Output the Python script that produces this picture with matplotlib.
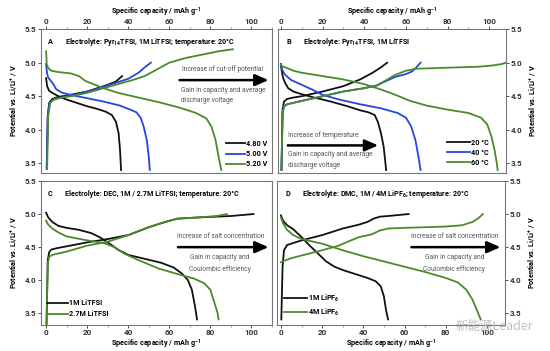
import matplotlib
matplotlib.use("Agg")
import matplotlib.pyplot as plt
from matplotlib.ticker import MultipleLocator

# ---------------------------------------------------------------------------
# data (capacity in mAh/g, potential in V)
# ---------------------------------------------------------------------------
# Panel A: cut-off potential
a_480_chg_x = [0.3, 0.8, 1.5, 3, 6, 10, 15, 20, 25, 30, 34, 37]
a_480_chg_y = [3.42, 4.2, 4.4, 4.46, 4.49, 4.51, 4.54, 4.57, 4.62, 4.67, 4.72, 4.8]
a_480_dis_x = [0, 0.5, 1.5, 3, 6, 10, 15, 20, 25, 29, 32, 34, 35.3, 36, 36.5]
a_480_dis_y = [4.77, 4.65, 4.58, 4.55, 4.5, 4.45, 4.4, 4.35, 4.31, 4.27, 4.22, 4.12, 3.95, 3.7, 3.4]
a_500_chg_x = [0.3, 0.8, 1.5, 3, 6, 10, 15, 20, 25, 30, 35, 40, 45, 48, 51]
a_500_chg_y = [3.42, 4.2, 4.38, 4.44, 4.47, 4.5, 4.53, 4.57, 4.61, 4.66, 4.71, 4.76, 4.85, 4.93, 5.0]
a_500_dis_x = [0, 0.4, 1, 2, 3.5, 5, 8, 12, 20, 28, 36, 41, 44, 46, 47.5, 49, 50, 50.5]
a_500_dis_y = [4.98, 4.85, 4.78, 4.74, 4.68, 4.6, 4.55, 4.52, 4.47, 4.42, 4.36, 4.3, 4.26, 4.18, 4.05, 3.85, 3.6, 3.4]
a_520_chg_x = [0.5, 1, 2, 4, 8, 12, 20, 28, 35, 42, 48, 54, 60, 68, 76, 84, 91]
a_520_chg_y = [3.42, 4.2, 4.4, 4.46, 4.48, 4.5, 4.55, 4.62, 4.68, 4.74, 4.8, 4.9, 5.0, 5.07, 5.12, 5.17, 5.2]
a_520_dis_x = [0, 0.3, 1, 2.5, 6, 12, 16, 19, 23, 28, 35, 45, 55, 65, 73, 78, 80.5, 82.5, 84, 85.3]
a_520_dis_y = [5.17, 4.98, 4.92, 4.88, 4.86, 4.84, 4.8, 4.73, 4.68, 4.62, 4.55, 4.48, 4.41, 4.33, 4.25, 4.17, 4.05, 3.85, 3.6, 3.4]

# Panel B: temperature
b_20_chg_x = [0.3, 0.8, 1.5, 3, 6, 10, 20, 30, 38, 44, 48, 51]
b_20_chg_y = [3.4, 4.3, 4.42, 4.46, 4.48, 4.5, 4.57, 4.65, 4.75, 4.85, 4.93, 5.0]
b_20_dis_x = [0, 0.4, 1, 2, 3.5, 6, 10, 16, 24, 32, 38, 42, 45, 46.5, 48, 49.3, 50, 50.5]
b_20_dis_y = [4.98, 4.88, 4.78, 4.7, 4.62, 4.57, 4.53, 4.48, 4.42, 4.35, 4.29, 4.26, 4.22, 4.12, 3.95, 3.75, 3.55, 3.4]
b_40_chg_x = [0.3, 0.8, 1.5, 3, 10, 20, 30, 40, 46, 50, 55, 60, 63, 65, 67]
b_40_chg_y = [3.4, 4.25, 4.35, 4.38, 4.43, 4.5, 4.57, 4.62, 4.66, 4.72, 4.79, 4.83, 4.87, 4.93, 5.0]
b_40_dis_x = [0, 0.5, 2, 5, 10, 15, 20, 28, 38, 48, 56, 60, 62.5, 64.5, 66, 67]
b_40_dis_y = [4.97, 4.9, 4.82, 4.74, 4.67, 4.6, 4.52, 4.45, 4.38, 4.32, 4.25, 4.18, 4.05, 3.85, 3.6, 3.4]
b_60_chg_x = [0.3, 0.8, 1.5, 3, 10, 20, 30, 40, 46, 50, 55, 60, 65, 75, 85, 95, 102, 106, 108]
b_60_chg_y = [3.4, 4.25, 4.35, 4.38, 4.43, 4.5, 4.57, 4.62, 4.66, 4.73, 4.82, 4.88, 4.91, 4.92, 4.93, 4.94, 4.96, 4.98, 5.0]
b_60_dis_x = [0, 1, 3, 6, 10, 20, 30, 40, 48, 55, 62, 70, 80, 90, 96, 99, 101, 102.5, 103.5, 104]
b_60_dis_y = [4.97, 4.94, 4.92, 4.88, 4.85, 4.8, 4.75, 4.68, 4.6, 4.52, 4.43, 4.36, 4.3, 4.25, 4.18, 4.08, 3.9, 3.7, 3.52, 3.4]

# Panel C: DEC, LiTFSI concentration
c_1m_chg_x = [0.2, 0.8, 1.5, 2.5, 5, 10, 20, 30, 40, 50, 58, 64, 75, 90, 101]
c_1m_chg_y = [3.32, 4.3, 4.42, 4.46, 4.48, 4.51, 4.57, 4.62, 4.68, 4.8, 4.88, 4.93, 4.95, 4.97, 5.0]
c_1m_dis_x = [0, 1, 3, 6, 10, 16, 22, 26, 30, 35, 40, 48, 56, 62, 66, 69, 71, 72.5, 73.5]
c_1m_dis_y = [5.02, 4.95, 4.88, 4.82, 4.79, 4.76, 4.71, 4.65, 4.57, 4.46, 4.38, 4.32, 4.26, 4.19, 4.1, 4.0, 3.85, 3.6, 3.4]
c_27m_chg_x = [0.2, 0.8, 1.5, 3, 10, 20, 30, 40, 50, 58, 64, 75, 83, 88]
c_27m_chg_y = [3.32, 4.25, 4.35, 4.38, 4.43, 4.52, 4.58, 4.68, 4.8, 4.88, 4.93, 4.95, 4.97, 5.0]
c_27m_dis_x = [0, 1, 3, 6, 10, 20, 28, 33, 38, 45, 55, 65, 72, 77, 80, 82, 83.5, 84]
c_27m_dis_y = [4.9, 4.84, 4.78, 4.72, 4.66, 4.6, 4.56, 4.5, 4.4, 4.3, 4.17, 4.08, 4.02, 3.95, 3.85, 3.65, 3.5, 3.4]

# Panel D: DMC, LiPF6 concentration
d_1m_chg_x = [0.2, 0.8, 1.5, 3, 6, 10, 20, 30, 38, 42, 45, 48, 52, 62]
d_1m_chg_y = [3.4, 4.2, 4.45, 4.53, 4.56, 4.6, 4.68, 4.78, 4.84, 4.88, 4.93, 4.96, 4.97, 5.0]
d_1m_dis_x = [0, 1, 3, 6, 10, 14, 18, 22, 26, 30, 36, 42, 46, 48.5, 50, 51, 52]
d_1m_dis_y = [4.98, 4.9, 4.83, 4.77, 4.65, 4.52, 4.4, 4.28, 4.2, 4.15, 4.09, 4.03, 3.98, 3.9, 3.75, 3.55, 3.4]
d_4m_chg_x = [0, 5, 10, 20, 28, 34, 38, 44, 48, 52, 60, 70, 80, 88, 93, 96, 98]
d_4m_chg_y = [4.27, 4.33, 4.37, 4.45, 4.52, 4.6, 4.65, 4.69, 4.75, 4.78, 4.79, 4.8, 4.81, 4.83, 4.88, 4.94, 5.0]
d_4m_dis_x = [0, 1, 3, 6, 10, 20, 30, 40, 50, 60, 70, 80, 86, 90, 93, 95, 97]
d_4m_dis_y = [4.95, 4.86, 4.76, 4.68, 4.62, 4.55, 4.45, 4.36, 4.28, 4.2, 4.12, 4.03, 3.96, 3.85, 3.7, 3.55, 3.4]

a_labels = ["4.80 V", "5.00 V", "5.20 V"]
b_labels = ["20 \u00b0C", "40 \u00b0C", "60 \u00b0C"]
c_labels = ["1M LiTFSI", "2.7M LiTFSI"]
d_labels = [r"1M LiPF$_6$", r"4M LiPF$_6$"]

x_ticks = [0, 20, 40, 60, 80, 100]
y_ticks = [3.5, 4.0, 4.5, 5.0, 5.5]

BLACK = "#111111"
BLUE = "#2447d8"
GREEN = "#4b8a2c"
GRAY = "#555555"

XLAB = r"Specific capacity / mAh g$^{-1}$"
YLAB = r"Potential vs. Li/Li$^{+}$ / V"

plt.rcParams["font.family"] = ["Roboto", "DejaVu Sans"]
plt.rcParams["font.weight"] = "bold"
plt.rcParams["mathtext.fontset"] = "custom"
plt.rcParams["mathtext.rm"] = "Roboto:bold"
plt.rcParams["mathtext.default"] = "rm"
FS = 5.2

fig = plt.figure(figsize=(5.5, 3.51), dpi=100)
axA = fig.add_axes([0.0745, 0.508, 0.42, 0.409])
axB = fig.add_axes([0.505, 0.508, 0.415, 0.409])
axC = fig.add_axes([0.0745, 0.075, 0.42, 0.409])
axD = fig.add_axes([0.504, 0.075, 0.415, 0.409])


def style(ax, xlim, ylim, top=False, right=False):
    ax.set_xlim(*xlim)
    ax.set_ylim(*ylim)
    ax.set_xticks(x_ticks)
    ax.xaxis.set_minor_locator(MultipleLocator(10))
    ax.set_yticks(y_ticks)
    ax.set_yticklabels([f"{v:.1f}" for v in y_ticks])
    ax.tick_params(labelsize=5.9, length=2, width=0.6, pad=1.2, colors="#333333")
    ax.tick_params(which="minor", length=1.2, width=0.5, colors="#777777")
    for s in ax.spines.values():
        s.set_color("#777777")
        s.set_linewidth(0.8)
    if top:
        ax.xaxis.tick_top()
        ax.xaxis.set_label_position("top")
    if right:
        ax.yaxis.tick_right()
        ax.yaxis.set_label_position("right")
    ax.set_xlabel(XLAB, fontsize=FS, fontweight="bold", labelpad=2.5 if top else 0.8)
    ax.set_ylabel(YLAB, fontsize=FS, fontweight="bold", labelpad=4)


def curves(ax, pairs, colors, labels):
    for (cx, cy, dx, dy), col, lab in zip(pairs, colors, labels):
        ax.plot(cx, cy, color=col, lw=1.3, label=lab)
        ax.plot(dx, dy, color=col, lw=1.3)


def title(ax, letter, text, lx, tx):
    ax.text(lx, 0.91, letter, transform=ax.transAxes, fontsize=5.3, fontweight="bold", va="center")
    ax.text(tx, 0.91, text, transform=ax.transAxes, fontsize=5.1, fontweight="bold", va="center")


def arrow_note(ax, x0, x1, y, head, head_x, body, body_x, body_y, ha_head="center", ha_body="left"):
    ax.annotate("", xy=(x1, y), xytext=(x0, y), xycoords="axes fraction",
                arrowprops=dict(arrowstyle="-|>,head_length=0.8,head_width=0.35", lw=1.8, color="black",
                                shrinkA=0, shrinkB=0))
    ax.text(head_x, y + 0.075, head, transform=ax.transAxes, fontsize=4.8, color=GRAY,
            ha=ha_head, va="center", fontweight="normal")
    ax.text(body_x, body_y, body, transform=ax.transAxes, fontsize=4.8, color=GRAY,
            ha=ha_body, va="top", linespacing=1.7, fontweight="normal")


# ---- A
curves(axA, [(a_480_chg_x, a_480_chg_y, a_480_dis_x, a_480_dis_y),
             (a_500_chg_x, a_500_chg_y, a_500_dis_x, a_500_dis_y),
             (a_520_chg_x, a_520_chg_y, a_520_dis_x, a_520_dis_y)],
       [BLACK, BLUE, GREEN], a_labels)
style(axA, (-2.5, 110), (3.36, 5.5), top=True)
title(axA, "A", r"Electrolyte: Pyr$_{14}$TFSI, 1M LiTFSI; temperature: 20°C", 0.03, 0.105)
arrow_note(axA, 0.6, 0.985, 0.645, "Increase of cut-off potential", 0.785,
           "Gain in capacity and average\ndischarge voltage", 0.605, 0.6)
axA.legend(loc="lower right", frameon=False, fontsize=FS, handlelength=2.6, handletextpad=0.2,
           labelspacing=0.3, borderaxespad=0.2)

# ---- B
curves(axB, [(b_20_chg_x, b_20_chg_y, b_20_dis_x, b_20_dis_y),
             (b_40_chg_x, b_40_chg_y, b_40_dis_x, b_40_dis_y),
             (b_60_chg_x, b_60_chg_y, b_60_dis_x, b_60_dis_y)],
       [BLACK, BLUE, GREEN], b_labels)
style(axB, (-1.5, 108), (3.36, 5.5), top=True, right=True)
title(axB, "B", r"Electrolyte: Pyr$_{14}$TFSI, 1M LiTFSI", 0.04, 0.11)
arrow_note(axB, 0.044, 0.44, 0.19, "Increase of temperature", 0.044,
           "Gain in capacity and average\ndischarge voltage", 0.044, 0.15, ha_head="left")
axB.legend(loc="lower right", frameon=False, fontsize=FS, handlelength=3.2, handletextpad=0.2,
           labelspacing=0.3, borderaxespad=0.4, bbox_to_anchor=(0.95, 0.0))

# ---- C
curves(axC, [(c_1m_chg_x, c_1m_chg_y, c_1m_dis_x, c_1m_dis_y),
             (c_27m_chg_x, c_27m_chg_y, c_27m_dis_x, c_27m_dis_y)],
       [BLACK, GREEN], c_labels)
style(axC, (-2.5, 110), (3.32, 5.5))
title(axC, "C", "Electrolyte: DEC, 1M / 2.7M LiTFSI; temperature: 20°C", 0.03, 0.105)
arrow_note(axC, 0.593, 0.985, 0.54, "Increase of salt concentration", 0.78,
           "Gain in capacity and\nCoulombic efficiency", 0.775, 0.49, ha_body="center")
axC.legend(loc="lower left", frameon=False, fontsize=FS, handlelength=2.8, handletextpad=0.2,
           labelspacing=0.4, borderaxespad=0.5)

# ---- D
curves(axD, [(d_1m_chg_x, d_1m_chg_y, d_1m_dis_x, d_1m_dis_y),
             (d_4m_chg_x, d_4m_chg_y, d_4m_dis_x, d_4m_dis_y)],
       [BLACK, GREEN], d_labels)
style(axD, (-1.8, 109), (3.32, 5.5), right=True)
title(axD, "D", r"Electrolyte: DMC, 1M / 4M LiPF$_6$; temperature: 20°C", 0.035, 0.11)
arrow_note(axD, 0.588, 0.978, 0.54, "Increase of salt concentration", 0.776,
           "Gain in capacity and\nCoulombic efficiency", 0.776, 0.49, ha_body="center")
axD.legend(loc="lower left", frameon=False, fontsize=FS, handlelength=3.2, handletextpad=0.2,
           labelspacing=0.4, borderaxespad=0.5)

# watermark
fig.text(0.97, 0.07, "新能源Leader", fontsize=9, color="#b8b8b8", ha="right", va="center",
         family=["Noto Sans CJK SC", "DejaVu Sans"], fontweight="normal", alpha=0.9)

fig.savefig("out.png", dpi=100)
